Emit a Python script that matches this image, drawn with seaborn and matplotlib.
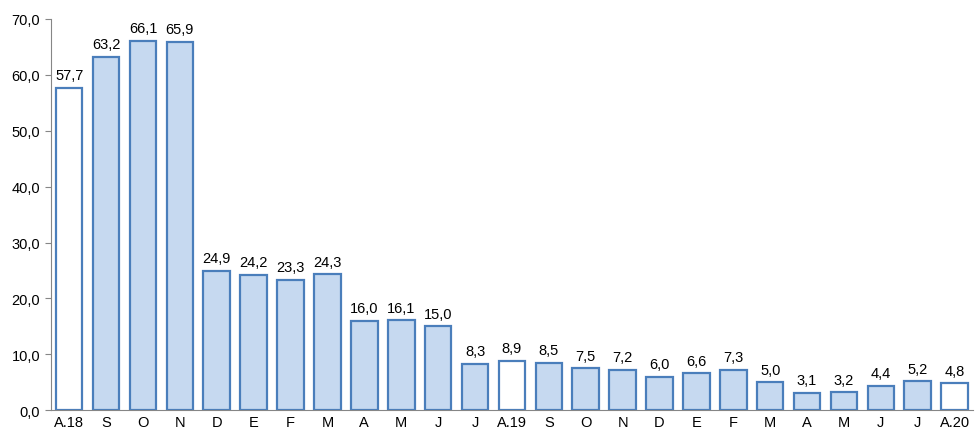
import matplotlib.pyplot as plt
import seaborn as sns
import pandas as pd

labels = ['A.18', 'S', 'O', 'N', 'D', 'E', 'F', 'M', 'A', 'M', 'J', 'J', 'A.19',
          'S', 'O', 'N', 'D', 'E', 'F', 'M', 'A', 'M', 'J', 'J', 'A.20']
values = [57.7, 63.2, 66.1, 65.9, 24.9, 24.2, 23.3, 24.3, 16.0, 16.1, 15.0, 8.3, 8.9,
          8.5, 7.5, 7.2, 6.0, 6.6, 7.3, 5.0, 3.1, 3.2, 4.4, 5.2, 4.8]
white_idx = [0, 12, 24]

df = pd.DataFrame({'pos': [str(i) for i in range(len(values))], 'val': values})
colors = {p: ('white' if i in white_idx else '#c6d9f0') for i, p in enumerate(df['pos'])}

sns.set_style('white')
plt.rcParams['font.family'] = ['Liberation Sans', 'DejaVu Sans']
fig, ax = plt.subplots(figsize=(9.76, 4.39), dpi=100)
sns.barplot(data=df, x='pos', y='val', hue='pos', palette=colors, legend=False,
            saturation=1, width=0.72, edgecolor='#4a7ebb', linewidth=1.6, ax=ax)

for i, v in enumerate(values):
    ax.text(i, v + 1.0, f'{v:.1f}'.replace('.', ','), ha='center', va='bottom',
            fontsize=10.5, color='black')

ax.set_ylim(0, 70)
ax.set_yticks(range(0, 71, 10))
ax.set_yticklabels([f'{t},0' for t in range(0, 71, 10)], fontsize=10.5, color='black')
ax.set_xticks(range(len(labels)))
ax.set_xticklabels(labels, fontsize=10.5, color='black')
ax.set_xlim(-0.5, len(values) - 0.5)
ax.set_xlabel('')
ax.set_ylabel('')
for s in ['top', 'right']:
    ax.spines[s].set_visible(False)
for s in ['left', 'bottom']:
    ax.spines[s].set_color('#868686')
ax.tick_params(axis='y', length=4, color='#868686', left=True)
ax.tick_params(axis='x', length=0)

plt.subplots_adjust(left=0.052, right=0.997, top=0.955, bottom=0.063)
plt.savefig('out.png')
